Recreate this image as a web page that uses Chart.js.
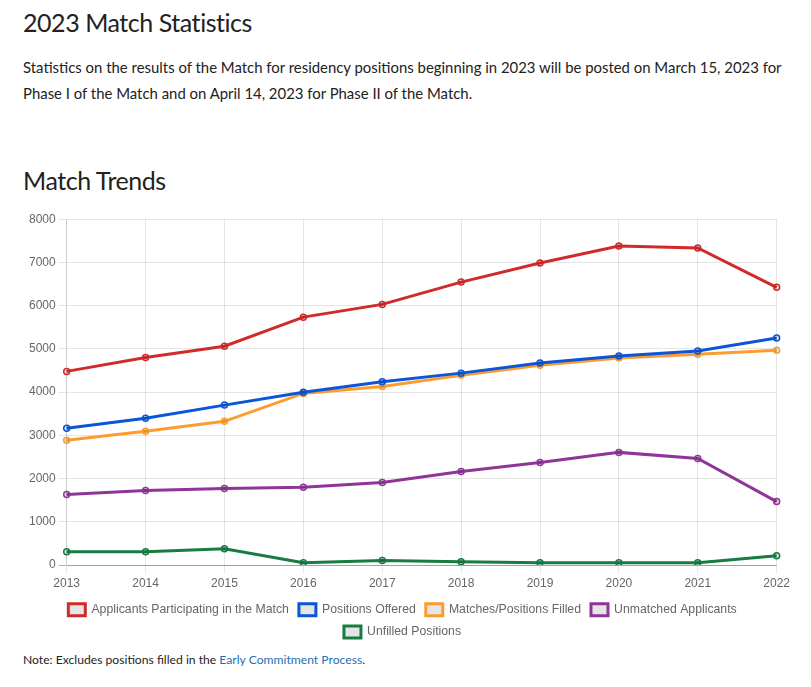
<!DOCTYPE html>
<html>
<head>
<meta charset="utf-8">
<script src="https://cdn.jsdelivr.net/npm/chart.js@4"></script>
<style>
  html, body { margin: 0; padding: 0; background: #fff; }
  body { width: 811px; height: 687px; position: relative; overflow: hidden; font-family: Lato, "Open Sans", sans-serif; color: #222; }
  h1 { position: absolute; left: 23px; top: 5px; margin: 0; font-weight: 400; font-size: 25px; line-height: 34px; color: #222; letter-spacing: -0.45px; }
  p.intro { position: absolute; left: 23px; top: 54px; margin: 0; width: 775px; font-size: 14.92px; line-height: 26px; color: #222; }
  h2 { position: absolute; left: 23px; top: 163px; margin: 0; font-weight: 400; font-size: 25px; line-height: 34px; color: #222; letter-spacing: -0.45px; }
  #wrap { position: absolute; left: 26px; top: 209px; width: 767px; height: 439px; }
  p.note { position: absolute; left: 23px; top: 651px; margin: 0; font-size: 12.15px; line-height: 18px; color: #222; }
  p.note a { color: #1f6fb2; text-decoration: none; }
</style>
</head>
<body>
<h1>2023 Match Statistics</h1>
<p class="intro">Statistics on the results of the Match for residency positions beginning in 2023 will be posted on March 15, 2023 for Phase I of the Match and on April 14, 2023 for Phase II of the Match.</p>
<h2>Match Trends</h2>
<div id="wrap"><canvas id="c"></canvas></div>
<p class="note">Note: Excludes positions filled in the <a href="#">Early Commitment Process</a>.</p>
<script>
const years = ["2013","2014","2015","2016","2017","2018","2019","2020","2021","2022"];
const applicants = [4480, 4800, 5062, 5735, 6030, 6545, 6985, 7380, 7335, 6425];
const positionsOffered = [3165, 3395, 3700, 4000, 4240, 4440, 4672, 4835, 4950, 5253];
const matchesFilled = [2886, 3094, 3326, 3970, 4132, 4388, 4620, 4790, 4875, 4967];
const unmatched = [1632, 1725, 1771, 1803, 1911, 2166, 2375, 2607, 2468, 1469];
const unfilled = [309, 309, 378, 54, 108, 77, 54, 54, 54, 216];
const seriesNames = ["Applicants Participating in the Match", "Positions Offered", "Matches/Positions Filled", "Unmatched Applicants", "Unfilled Positions"];
const seriesColors = ["#d12a2a", "#0a55d8", "#fd9c2e", "#8f3597", "#177c42"];
const yTicks = [0, 1000, 2000, 3000, 4000, 5000, 6000, 7000, 8000];

const seriesData = [applicants, positionsOffered, matchesFilled, unmatched, unfilled];
const datasets = seriesData.map((d, i) => ({
  label: seriesNames[i],
  data: d,
  borderColor: seriesColors[i],
  backgroundColor: 'rgba(0,0,0,0.1)',
  borderWidth: 3,
  fill: false,
  tension: 0,
  pointRadius: 3,
  pointBorderWidth: 1.5,
  pointBackgroundColor: 'rgba(0,0,0,0.1)',
  pointBorderColor: seriesColors[i]
}));

Chart.defaults.font.family = "'Liberation Sans', Arial, Helvetica, sans-serif";
Chart.defaults.font.size = 12;
Chart.defaults.color = '#666';

new Chart(document.getElementById('c'), {
  type: 'line',
  data: { labels: years, datasets },
  options: {
    responsive: true,
    maintainAspectRatio: false,
    animation: false,
    layout: { padding: { left: 0, right: 14, top: 0, bottom: 0 } },
    plugins: {
      legend: {
        position: 'bottom',
        labels: { boxWidth: 17, boxHeight: 12, padding: 10, color: '#666', font: { size: 12.25 } }
      },
      tooltip: { enabled: false }
    },
    scales: {
      x: {
        grid: { color: 'rgba(0,0,0,0.1)', tickLength: 8 },
        border: { color: 'rgba(0,0,0,0.1)' },
        ticks: { color: '#666', padding: 3, maxRotation: 0 }
      },
      y: {
        min: 0, max: 8000,
        afterBuildTicks: (axis) => { axis.ticks = yTicks.map(v => ({ value: v })); },
        grid: { color: (ctx) => (ctx.tick && ctx.tick.value === 0) ? 'rgba(0,0,0,0.3)' : 'rgba(0,0,0,0.1)', tickLength: 8 },
        border: { color: 'rgba(0,0,0,0.1)' },
        ticks: { color: '#666', padding: 3, callback: (v) => String(v) }
      }
    }
  }
});
</script>
</body>
</html>
